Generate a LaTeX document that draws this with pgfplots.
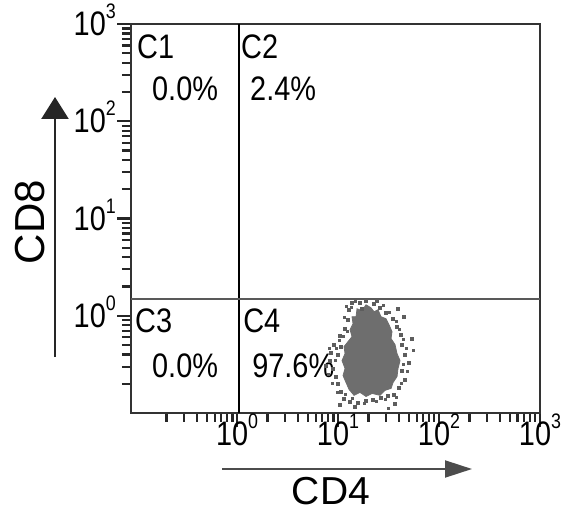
\documentclass[border=0pt]{standalone}
\usepackage{pgfplots}
\pgfplotsset{compat=1.18}
\usepackage{fontspec}
\setmainfont{Liberation Sans}
\usetikzlibrary{calc,arrows.meta}
\definecolor{cloud}{HTML}{6E6E6E}
\newcommand{\qfont}{\fontsize{34}{38}\selectfont}
\newcommand{\tl}[1]{\scalebox{0.85}[1]{10\smash{\raisebox{0.5em}{\fontsize{21}{21}\selectfont #1}}}}
\newcommand{\qt}[1]{\scalebox{0.85}[1]{\qfont #1}}
\begin{document}
\begin{tikzpicture}
\begin{axis}[
  name=ax,
  scale only axis,
  width=409pt, height=389pt,
  xmode=log, ymode=log,
  xmin=0.0891, xmax=1000,
  ymin=0.1, ymax=1000,
  xtick={1,10,100,1000},
  xticklabels={\tl{0},\tl{1},\tl{2},\tl{3}},
  ytick={1,10,100,1000},
  yticklabels={\tl{0},\tl{1},\tl{2},\tl{3}},
  minor xtick={0.2,0.3,0.4,0.5,0.6,0.7,0.8,0.9,2,3,4,5,6,7,8,9,20,30,40,50,60,70,80,90,200,300,400,500,600,700,800,900},
  minor ytick={0.2,0.3,0.4,0.5,0.6,0.7,0.8,0.9,2,3,4,5,6,7,8,9,20,30,40,50,60,70,80,90,200,300,400,500,600,700,800,900},
  tick pos=left,
  tick align=outside,
  major tick length=14pt,
  minor tick length=9pt,
  every tick/.style={line width=2.4pt, black!85},
  every major tick/.style={line width=2.4pt, black!85},
  every minor tick/.style={line width=2.2pt, black!85},
  axis background/.style={draw=black!80, line width=2.8pt},
  axis line style={line width=2.8pt, black!80},
  ticklabel style={font=\qfont, black},
  xticklabel style={inner sep=1pt, yshift=6pt},
  yticklabel style={inner sep=1pt, xshift=0pt},
]
% dense core of the population
\addplot[fill=cloud, draw=cloud, line width=0.8pt] coordinates {
 (15.08,0.977) (15.43,1.179) (17.29,1.125) (18.93,1.296) (21.21,1.207)
 (22.72,1.099) (24.89,1.152) (26.65,0.977) (29.87,0.932) (31.99,0.809)
 (34.25,0.686) (33.48,0.582) (36.68,0.505) (38.39,0.408) (41.11,0.346)
 (39.28,0.287) (38.39,0.237) (35.05,0.206) (33.48,0.179) (29.20,0.171)
 (26.05,0.152) (21.70,0.159) (18.93,0.148) (16.51,0.163) (14.40,0.152)
 (12.85,0.175) (12.00,0.206) (11.21,0.243) (11.73,0.287) (10.95,0.346)
 (11.73,0.408) (11.47,0.482) (12.56,0.542) (13.76,0.610) (13.15,0.719)
 (14.08,0.828) (13.76,0.977)
} -- cycle;
% scattered events (larger)
\addplot[only marks, mark=square*, mark size=1.5pt, color=cloud!85!black] coordinates {
 (8.33,0.346) (8.92,0.287) (9.55,0.238) (10.0,0.399) (10.7,0.482)
 (9.13,0.505) (10.0,0.201) (10.7,0.167) (11.5,0.141) (10.5,0.624)
 (11.7,0.736) (12.6,0.910) (12.8,1.15) (13.8,1.36) (16.5,1.36)
 (18.9,1.43) (22.7,1.33) (26.1,1.21) (29.9,1.07) (35.1,0.931)
 (38.4,0.771) (42.1,0.639) (45.0,0.977) (43.0,0.505) (46.1,0.399)
 (43.0,0.274) (46.1,0.221) (40.2,0.183) (35.8,0.155) (13.1,0.132)
 (15.8,0.129) (18.9,0.135) (22.2,0.138) (26.7,0.145) (31.3,0.152)
 (10.5,0.123) (17.3,1.18) (24.3,1.43) (50.5,0.330) (7.60,0.308)
 (8.53,0.418) (36.7,0.126) (14.7,0.117) (54.1,0.582) (39.3,1.18)
};
% scattered events (smaller)
\addplot[only marks, mark=square*, mark size=1.0pt, color=cloud!85!black] coordinates {
 (10.23,0.555) (9.55,0.459) (11.21,0.610) (12.28,0.686) (11.47,0.977)
 (13.45,1.236) (14.73,1.424) (12.00,1.266) (27.89,1.296) (31.99,1.099)
 (37.52,0.889) (40.18,0.736) (44.02,0.568) (47.14,0.459) (44.02,0.315)
 (42.05,0.201) (37.52,0.145) (29.20,0.138) (23.78,0.132) (18.09,0.126)
 (13.76,0.141) (11.73,0.155) (9.77,0.163) (8.72,0.201) (7.96,0.249)
 (9.34,0.346) (8.15,0.459) (48.23,0.267) (55.28,0.438) (31.26,0.112)
};
% gates
\addplot[black, line width=2pt] coordinates {(1.05,0.1) (1.05,1000)};
\addplot[black!65, line width=2pt] coordinates {(0.0891,1.49) (1000,1.49)};
% quadrant labels
\node[anchor=base west, inner sep=0] at (rel axis cs:0.0147,0.9126) {\qt{C1}};
\node[anchor=base west, inner sep=0] at (rel axis cs:0.0513,0.8046) {\qt{0.0\%}};
\node[anchor=base west, inner sep=0] at (rel axis cs:0.269,0.9126) {\qt{C2}};
\node[anchor=base west, inner sep=0] at (rel axis cs:0.291,0.8046) {\qt{2.4\%}};
\node[anchor=base west, inner sep=0] at (rel axis cs:0.0098,0.2057) {\qt{C3}};
\node[anchor=base west, inner sep=0] at (rel axis cs:0.0513,0.0925) {\qt{0.0\%}};
\node[anchor=base west, inner sep=0] at (rel axis cs:0.274,0.2057) {\qt{C4}};
\node[anchor=base west, inner sep=0] at (rel axis cs:0.296,0.0925) {\qt{97.6\%}};
\end{axis}
% axis arrows and titles
\draw[black!70, line width=2pt, -{Triangle[length=27pt,width=17pt]}]
  ($(ax.south west)+(91pt,-56pt)$) -- ($(ax.south west)+(341pt,-56pt)$);
\node[font=\fontsize{39}{43}\selectfont, inner sep=0pt, anchor=base] at ($(ax.south west)+(200pt,-91pt)$) {CD4};
\draw[black!85, line width=2.5pt, -{Triangle[length=22pt,width=27pt]}]
  ($(ax.south west)+(-76pt,56pt)$) -- ($(ax.south west)+(-76pt,316pt)$);
\node[font=\fontsize{42}{46}\selectfont, rotate=90, inner sep=0pt] at ($(ax.south west)+(-101pt,191pt)$) {CD8};
\pgfresetboundingbox
\path[use as bounding box] ($(ax.south west)+(-131pt,-99pt)$) rectangle ($(ax.south west)+(434pt,413pt)$);
\end{tikzpicture}
\end{document}
